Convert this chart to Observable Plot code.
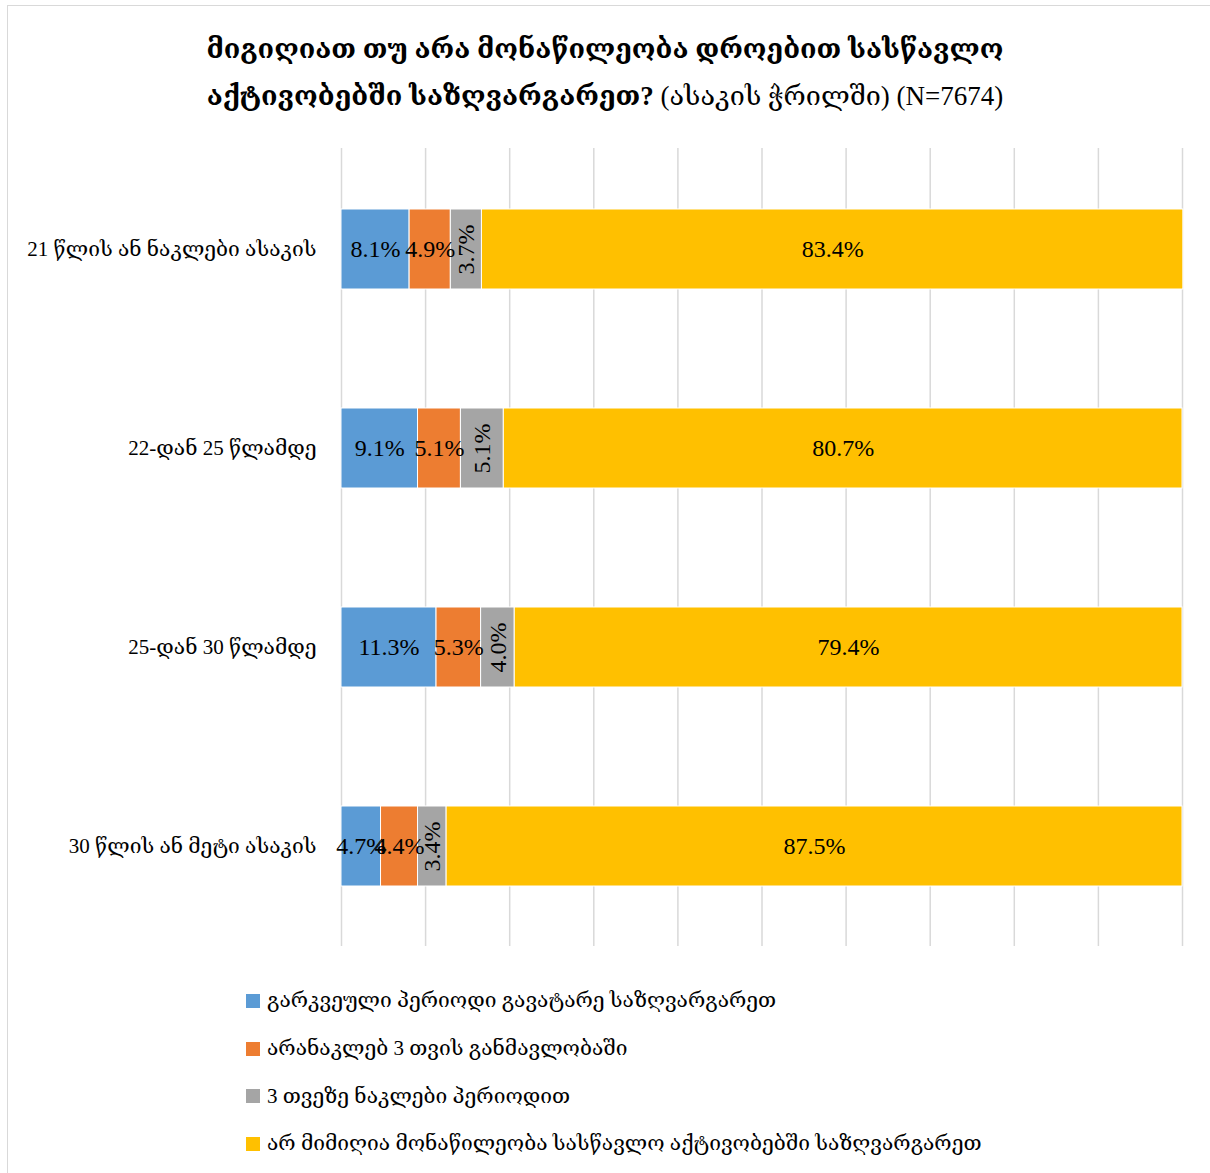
<!DOCTYPE html>
<html>
<head>
<meta charset="utf-8">
<script src="https://cdn.jsdelivr.net/npm/d3@7"></script>
<script src="https://cdn.jsdelivr.net/npm/@observablehq/plot@0.6"></script>
<style>
  html, body { margin: 0; padding: 0; background: #fff; }
  body { width: 1210px; height: 1173px; position: relative; overflow: hidden;
         font-family: "Liberation Serif", "DejaVu Serif", "DejaVu Sans", serif; color: #000; }
  #frame { position: absolute; left: 7px; top: 5px; width: 1300px; height: 1300px;
           border-left: 1.5px solid #d9d9d9; border-top: 1.5px solid #d9d9d9; }
  #title { position: absolute; left: 0; top: 26px; width: 1210px; text-align: center;
           font-size: 27px; line-height: 47px; }
  #title b { font-weight: bold; }
  #chart { position: absolute; left: 0; top: 130px; }
  #legend { position: absolute; left: 246px; top: 977px; }
  .li { display: flex; align-items: center; height: 47.7px; font-size: 21px; }
  .sw { width: 14px; height: 14px; margin-right: 7px; flex: none; }
</style>
</head>
<body>
<div id="frame"></div>
<div id="title"></div>
<div id="chart"></div>
<div id="legend"></div>
<script>
const categories = [
  "21 წლის ან ნაკლები ასაკის",
  "22-დან 25 წლამდე",
  "25-დან 30 წლამდე",
  "30 წლის ან მეტი ასაკის"
];
const seriesNames = [
  "გარკვეული პერიოდი გავატარე საზღვარგარეთ",
  "არანაკლებ 3 თვის განმავლობაში",
  "3 თვეზე ნაკლები პერიოდით",
  "არ მიმიღია მონაწილეობა სასწავლო აქტივობებში საზღვარგარეთ"
];
const seriesColors = ["#5B9BD5", "#ED7D31", "#A5A5A5", "#FFC000"];
const valuesSomePeriod = [8.1, 9.1, 11.3, 4.7];
const valuesAtLeast3m  = [4.9, 5.1, 5.3, 4.4];
const valuesLess3m     = [3.7, 5.1, 4.0, 3.4];
const valuesNone       = [83.4, 80.7, 79.4, 87.5];
const xTicks = [0, 10, 20, 30, 40, 50, 60, 70, 80, 90, 100];
const titleLine1 = "მიგიღიათ თუ არა მონაწილეობა დროებით სასწავლო";
const titleLine2Bold = "აქტივობებში საზღვარგარეთ?";
const titleLine2Rest = " (ასაკის ჭრილში) (N=7674)";

document.getElementById("title").innerHTML =
  `<b>${titleLine1}</b><br><b>${titleLine2Bold}</b>${titleLine2Rest}`;

const allSeries = [valuesSomePeriod, valuesAtLeast3m, valuesLess3m, valuesNone];
const data = [];
categories.forEach((c, i) => {
  allSeries.forEach((vals, s) => {
    data.push({cat: c, series: seriesNames[s], si: s, value: vals[i]});
  });
});
const fmt = v => v.toFixed(1) + "%";

const stackOpts = (extra) => Plot.stackX({
  x: "value", y: "cat", z: "series", order: seriesNames, ...extra
});

const chart = Plot.plot({
  width: 1210,
  height: 830,
  marginLeft: 341,
  marginRight: 28,
  marginTop: 18,
  marginBottom: 14,
  style: {fontFamily: '"Liberation Serif", "DejaVu Serif", "DejaVu Sans", serif', background: "transparent"},
  x: {domain: [0, 100], axis: null},
  y: {domain: categories, paddingInner: 0.6, paddingOuter: 0.3, label: null},
  color: {domain: seriesNames, range: seriesColors},
  marks: [
    Plot.ruleX(xTicks, {stroke: "#d9d9d9", strokeWidth: 1.5}),
    Plot.axisY({tickSize: 0, tickPadding: 25, fontSize: 21, label: null, fill: "#000"}),
    Plot.barX(data, stackOpts({fill: "series", stroke: "#fff", strokeWidth: 1})),
    Plot.text(data, stackOpts({
      text: d => d.si === 2 ? "" : fmt(d.value),
      fontSize: 24, fill: "#000"
    })),
    Plot.text(data, stackOpts({
      text: d => d.si === 2 ? fmt(d.value) : "",
      fontSize: 24, fill: "#000", rotate: -90
    }))
  ]
});
document.getElementById("chart").appendChild(chart);

const legend = document.getElementById("legend");
seriesNames.forEach((n, i) => {
  const row = document.createElement("div");
  row.className = "li";
  row.innerHTML = `<span class="sw" style="background:${seriesColors[i]}"></span><span>${n}</span>`;
  legend.appendChild(row);
});
</script>
</body>
</html>
